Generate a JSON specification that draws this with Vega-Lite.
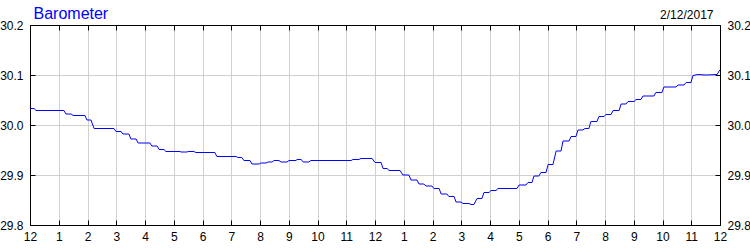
{
  "$schema": "https://vega.github.io/schema/vega-lite/v6.json",
  "width": 690,
  "height": 200,
  "autosize": {"type": "none"},
  "padding": {"left": 30, "top": 25, "right": 30, "bottom": 25},
  "background": "white",
  "config": {
    "view": {"stroke": null},
    "font": "Liberation Sans",
    "axis": {
      "labelFont": "Liberation Sans",
      "labelFontSize": 12,
      "labelColor": "#000000",
      "domainColor": "#000000",
      "tickColor": "#000000",
      "tickSize": -5,
      "gridColor": "#d0d0d0",
      "gridWidth": 1,
      "titleFont": "Liberation Sans"
    }
  },
  "data": {
    "values": [
      {"h": 0, "v": 30.033}, {"h": 0.14, "v": 30.033}, {"h": 0.21, "v": 30.029}, {"h": 1.18, "v": 30.029},
      {"h": 1.25, "v": 30.022}, {"h": 1.43, "v": 30.022}, {"h": 1.5, "v": 30.019}, {"h": 1.91, "v": 30.019},
      {"h": 1.98, "v": 30.01}, {"h": 2.12, "v": 30.01}, {"h": 2.23, "v": 29.993}, {"h": 2.92, "v": 29.993},
      {"h": 2.99, "v": 29.987}, {"h": 3.17, "v": 29.987}, {"h": 3.23, "v": 29.982}, {"h": 3.44, "v": 29.982},
      {"h": 3.51, "v": 29.972}, {"h": 3.69, "v": 29.972}, {"h": 3.76, "v": 29.964}, {"h": 4.17, "v": 29.964},
      {"h": 4.24, "v": 29.958}, {"h": 4.42, "v": 29.958}, {"h": 4.49, "v": 29.951}, {"h": 4.66, "v": 29.951},
      {"h": 4.73, "v": 29.947}, {"h": 5.22, "v": 29.947}, {"h": 5.25, "v": 29.946}, {"h": 5.46, "v": 29.946},
      {"h": 5.5, "v": 29.947}, {"h": 5.7, "v": 29.947}, {"h": 5.77, "v": 29.945}, {"h": 6.43, "v": 29.945},
      {"h": 6.5, "v": 29.937}, {"h": 7.17, "v": 29.937}, {"h": 7.23, "v": 29.935}, {"h": 7.37, "v": 29.935},
      {"h": 7.44, "v": 29.929}, {"h": 7.65, "v": 29.929}, {"h": 7.72, "v": 29.922}, {"h": 7.97, "v": 29.922},
      {"h": 8.03, "v": 29.924}, {"h": 8.21, "v": 29.924}, {"h": 8.28, "v": 29.926}, {"h": 8.42, "v": 29.926},
      {"h": 8.49, "v": 29.929}, {"h": 8.66, "v": 29.929}, {"h": 8.73, "v": 29.926}, {"h": 8.94, "v": 29.926},
      {"h": 9.01, "v": 29.929}, {"h": 9.25, "v": 29.929}, {"h": 9.29, "v": 29.931}, {"h": 9.43, "v": 29.931},
      {"h": 9.5, "v": 29.926}, {"h": 9.7, "v": 29.926}, {"h": 9.77, "v": 29.929}, {"h": 11.17, "v": 29.929},
      {"h": 11.23, "v": 29.931}, {"h": 11.44, "v": 29.931}, {"h": 11.51, "v": 29.933}, {"h": 11.9, "v": 29.933},
      {"h": 12.0, "v": 29.925}, {"h": 12.21, "v": 29.925}, {"h": 12.28, "v": 29.913}, {"h": 12.42, "v": 29.913},
      {"h": 12.49, "v": 29.909}, {"h": 12.87, "v": 29.909}, {"h": 12.97, "v": 29.9}, {"h": 13.18, "v": 29.9},
      {"h": 13.25, "v": 29.89}, {"h": 13.46, "v": 29.89}, {"h": 13.53, "v": 29.882}, {"h": 13.7, "v": 29.882},
      {"h": 13.77, "v": 29.878}, {"h": 13.98, "v": 29.878}, {"h": 14.05, "v": 29.873}, {"h": 14.23, "v": 29.873},
      {"h": 14.3, "v": 29.862}, {"h": 14.5, "v": 29.862}, {"h": 14.57, "v": 29.857}, {"h": 14.75, "v": 29.857},
      {"h": 14.82, "v": 29.846}, {"h": 14.99, "v": 29.846}, {"h": 15.06, "v": 29.843}, {"h": 15.27, "v": 29.843},
      {"h": 15.34, "v": 29.841}, {"h": 15.44, "v": 29.841}, {"h": 15.55, "v": 29.853}, {"h": 15.72, "v": 29.853},
      {"h": 15.79, "v": 29.865}, {"h": 15.97, "v": 29.865}, {"h": 16.03, "v": 29.869}, {"h": 16.21, "v": 29.869},
      {"h": 16.28, "v": 29.873}, {"h": 16.94, "v": 29.873}, {"h": 17.01, "v": 29.88}, {"h": 17.25, "v": 29.88},
      {"h": 17.32, "v": 29.885}, {"h": 17.46, "v": 29.885}, {"h": 17.53, "v": 29.898}, {"h": 17.7, "v": 29.898},
      {"h": 17.77, "v": 29.905}, {"h": 17.95, "v": 29.905}, {"h": 18.02, "v": 29.921}, {"h": 18.19, "v": 29.921},
      {"h": 18.3, "v": 29.948}, {"h": 18.47, "v": 29.948}, {"h": 18.54, "v": 29.968}, {"h": 18.75, "v": 29.968},
      {"h": 18.82, "v": 29.977}, {"h": 18.99, "v": 29.977}, {"h": 19.06, "v": 29.99}, {"h": 19.23, "v": 29.99},
      {"h": 19.3, "v": 29.993}, {"h": 19.44, "v": 29.993}, {"h": 19.51, "v": 30.007}, {"h": 19.72, "v": 30.007},
      {"h": 19.79, "v": 30.017}, {"h": 19.97, "v": 30.017}, {"h": 20.03, "v": 30.021}, {"h": 20.21, "v": 30.021},
      {"h": 20.28, "v": 30.029}, {"h": 20.49, "v": 30.029}, {"h": 20.56, "v": 30.042}, {"h": 20.73, "v": 30.042},
      {"h": 20.8, "v": 30.047}, {"h": 21.01, "v": 30.047}, {"h": 21.08, "v": 30.051}, {"h": 21.25, "v": 30.051},
      {"h": 21.32, "v": 30.058}, {"h": 21.7, "v": 30.058}, {"h": 21.77, "v": 30.065}, {"h": 21.98, "v": 30.065},
      {"h": 22.05, "v": 30.076}, {"h": 22.47, "v": 30.076}, {"h": 22.54, "v": 30.08}, {"h": 22.75, "v": 30.08},
      {"h": 22.82, "v": 30.085}, {"h": 22.99, "v": 30.085}, {"h": 23.06, "v": 30.099}, {"h": 23.23, "v": 30.101},
      {"h": 23.51, "v": 30.1}, {"h": 23.9, "v": 30.101}, {"h": 23.97, "v": 30.108}, {"h": 24.0, "v": 30.11}
    ]
  },
  "layer": [
    {
      "mark": {"type": "line", "color": "#0000ff", "strokeWidth": 1, "interpolate": "linear"},
      "encoding": {
        "x": {
          "field": "h", "type": "quantitative",
          "scale": {"domain": [0, 24], "nice": false, "zero": false},
          "axis": {
            "orient": "bottom", "title": null,
            "values": [0,1,2,3,4,5,6,7,8,9,10,11,12,13,14,15,16,17,18,19,20,21,22,23,24],
            "labelExpr": "datum.value % 12 == 0 ? '12' : '' + (datum.value % 12)",
            "labelOverlap": false, "labelFlush": false, "labelPadding": 11,
            "grid": true
          }
        },
        "y": {
          "field": "v", "type": "quantitative",
          "scale": {"domain": [29.8, 30.2], "nice": false, "zero": false},
          "axis": {
            "orient": "left",
            "values": [29.8, 29.9, 30.0, 30.1, 30.2],
            "format": ".1f", "labelPadding": 12, "labelOverlap": false, "labelFlush": false,
            "grid": true,
            "title": "Barometer", "titleAngle": 0, "titleX": 3, "titleY": -7,
            "titleAlign": "left", "titleBaseline": "alphabetic",
            "titleColor": "#0000ff", "titleFontSize": 16, "titleFontWeight": "normal"
          }
        }
      }
    },
    {
      "mark": {"type": "line", "color": "#0000ff", "strokeWidth": 1, "opacity": 0},
      "encoding": {
        "x": {
          "field": "h", "type": "quantitative",
          "axis": {
            "orient": "top",
            "values": [0,1,2,3,4,5,6,7,8,9,10,11,12,13,14,15,16,17,18,19,20,21,22,23,24],
            "labels": false, "grid": false,
            "title": "2/12/2017", "titleX": 683, "titleY": -7,
            "titleAlign": "right", "titleBaseline": "alphabetic", "titleAnchor": null,
            "titleColor": "#000000", "titleFontSize": 12, "titleFontWeight": "normal"
          }
        },
        "y": {
          "field": "v", "type": "quantitative",
          "axis": {
            "orient": "right",
            "values": [29.8, 29.9, 30.0, 30.1, 30.2],
            "format": ".1f", "labelPadding": 12, "labelOverlap": false, "labelFlush": false,
            "grid": false, "title": null
          }
        }
      }
    }
  ],
  "resolve": {"axis": {"x": "independent", "y": "independent"}}
}
